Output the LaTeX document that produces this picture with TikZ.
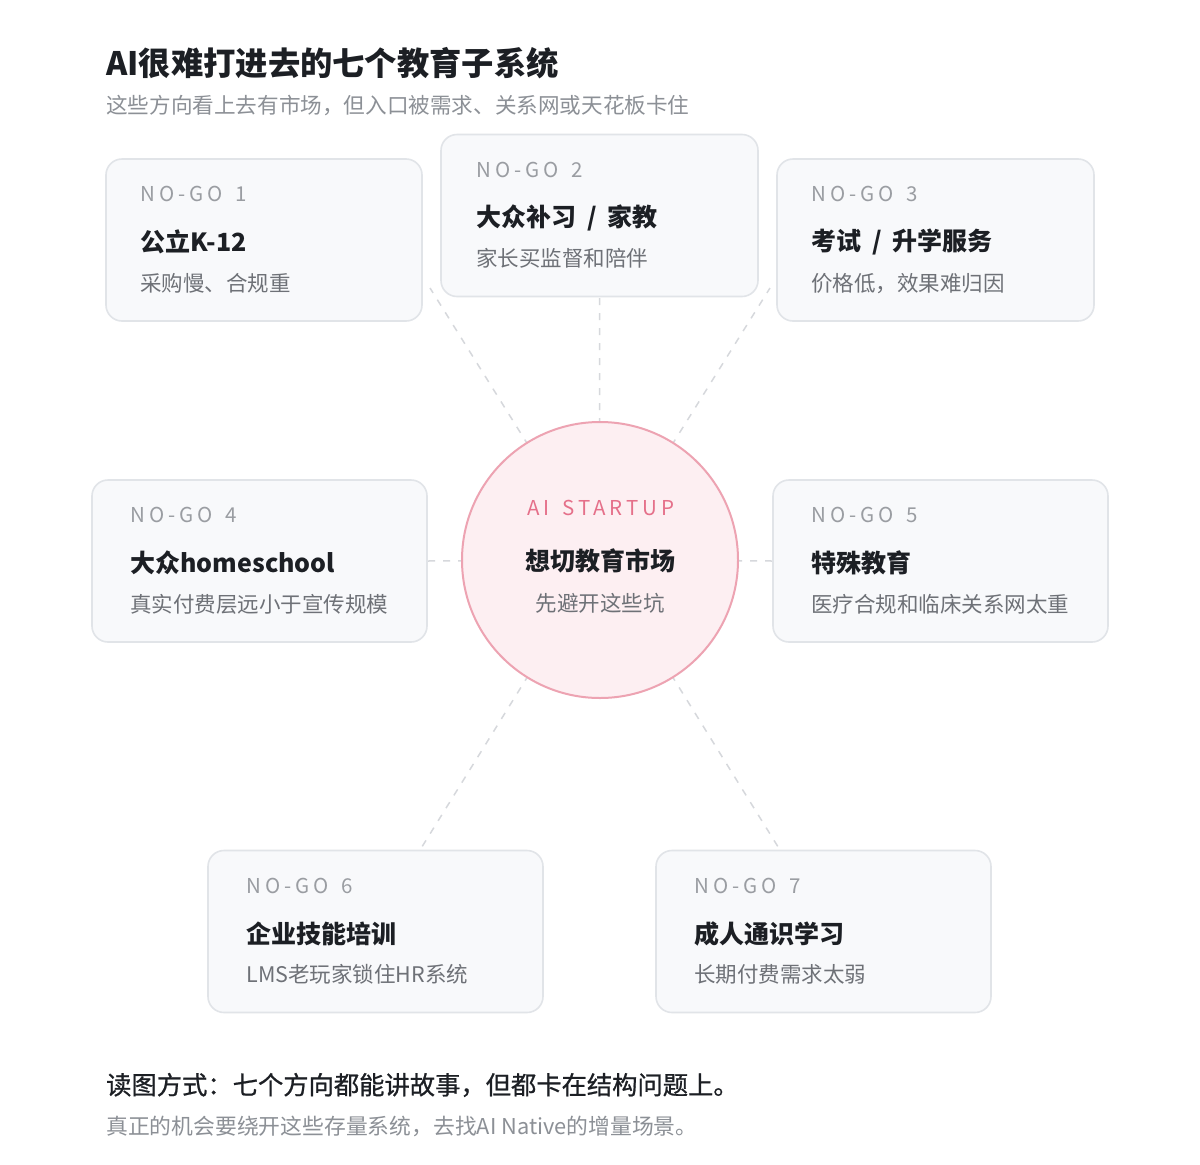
\documentclass[tikz,border=0pt]{standalone}
\usepackage{fontspec}
\setmainfont{Noto Sans CJK SC}
\newfontfamily\spacedfont[LetterSpace=19,WordSpace=1.5]{Noto Sans CJK SC}
\newfontfamily\ttlfont[WordSpace=1.9]{Noto Sans CJK SC}
\newfontfamily\medfont[FakeBold=0.8]{Noto Sans CJK SC}
\usetikzlibrary{backgrounds}
\definecolor{ink}{HTML}{1C1F24}
\definecolor{subgray}{HTML}{8C9096}
\definecolor{lblgray}{HTML}{9A9DA2}
\definecolor{descgray}{HTML}{6E7177}
\definecolor{pinktxt}{HTML}{E5708A}
\definecolor{pinkfill}{HTML}{FDEFF2}
\definecolor{pinkline}{HTML}{EDA3B2}
\definecolor{boxfill}{HTML}{F8F9FB}
\definecolor{boxline}{HTML}{E1E4E8}
\definecolor{dashc}{HTML}{D6D8DC}
\tikzset{
  nogobox/.style={draw=boxline, fill=boxfill, line width=1.6pt, rounded corners=16pt, inner sep=0pt},
  hub/.style={circle, draw=pinkline, fill=pinkfill, line width=2pt, minimum size=276pt, inner sep=0pt},
  lbl/.style={anchor=west, inner sep=0pt, text=lblgray, font=\spacedfont\fontsize{20.5}{24}\selectfont},
  ttl/.style={anchor=west, inner sep=0pt, text=ink, font=\ttlfont\bfseries\fontsize{25}{30}\selectfont},
  desc/.style={anchor=west, inner sep=0pt, text=descgray, font=\fontsize{21.5}{26}\selectfont},
  conn/.style={draw=dashc, line width=1.5pt, dash pattern=on 7pt off 8pt},
}
% name, cx, cy, width, label, title, desc, text offset
\newcommand{\nogo}[8]{%
  \node[nogobox, minimum width=#4pt, minimum height=162pt] (#1) at (#2,#3) {};
  \node[lbl] (#1l) at ([xshift=#8pt,yshift=-36pt]#1.north west) {#5};
  \node[ttl] (#1t) at ([xshift=#8pt,yshift=-84pt]#1.north west) {#6};
  \node[desc] (#1d) at ([xshift=#8pt,yshift=-125pt]#1.north west) {#7};
}
\begin{document}
\begin{tikzpicture}[x=1pt,y=-1pt]
\useasboundingbox (0,0) rectangle (1200,1165);

% heading
\node[anchor=west, inner sep=0pt, text=ink, font=\bfseries\fontsize{32.3}{38}\selectfont] (head) at (106,63) {AI很难打进去的七个教育子系统};
\node[anchor=west, inner sep=0pt, text=subgray, font=\fontsize{21.6}{26}\selectfont] (subhead) at (106,105) {这些方向看上去有市场，但入口被需求、关系网或天花板卡住};

% boxes
\nogo{b1}{264}{240}{316}{NO-GO 1}{公立K-12}{采购慢、合规重}{35}
\nogo{b2}{599.5}{215.5}{317}{NO-GO 2}{大众补习 / 家教}{家长买监督和陪伴}{36}
\nogo{b3}{935.5}{240}{317}{NO-GO 3}{考试 / 升学服务}{价格低，效果难归因}{35}
\nogo{b4}{259.5}{561}{335}{NO-GO 4}{大众homeschool}{真实付费层远小于宣传规模}{39}
\nogo{b5}{940.5}{561}{335}{NO-GO 5}{特殊教育}{医疗合规和临床关系网太重}{39}
\nogo{b6}{375.5}{931.5}{335}{NO-GO 6}{企业技能培训}{LMS老玩家锁住HR系统}{39}
\nogo{b7}{823.5}{931.5}{335}{NO-GO 7}{成人通识学习}{长期付费需求太弱}{39}

% hub
\node[hub] (c) at (600,560) {};
\node[anchor=center, inner sep=0pt, text=pinktxt, font=\spacedfont\fontsize{20.5}{24}\selectfont] (cl) at (601,508) {AI STARTUP};
\node[anchor=center, inner sep=0pt, text=ink, font=\bfseries\fontsize{25}{30}\selectfont] (ct) at (600,561) {想切教育市场};
\node[anchor=center, inner sep=0pt, text=descgray, font=\fontsize{21.5}{26}\selectfont] (cd) at (600,603) {先避开这些坑};

% connector ends
\coordinate (e1) at (430,288);
\coordinate (e3) at (770,288);
\coordinate (e6) at (420,850);
\coordinate (e7) at (780,850);

\begin{scope}[on background layer]
\fill[white] (0,0) rectangle (1200,1165);
\draw[conn] (c.center) -- (e1);
\draw[conn] (c.center) -- (b2.south);
\draw[conn] (c.center) -- (e3);
\draw[conn] (c.center) -- (b4.east);
\draw[conn] (c.center) -- (b5.west);
\draw[conn] (c.center) -- (e6);
\draw[conn] (c.center) -- (e7);
\end{scope}

% footer
\node[anchor=west, inner sep=0pt, text=ink, font=\medfont\fontsize{25.3}{30}\selectfont] (foot) at (106,1085) {读图方式：七个方向都能讲故事，但都卡在结构问题上。};
\node[anchor=west, inner sep=0pt, text=subgray, font=\fontsize{21.8}{26}\selectfont] (foot2) at (106,1126) {真正的机会要绕开这些存量系统，去找AI Native的增量场景。};
\end{tikzpicture}
\end{document}
